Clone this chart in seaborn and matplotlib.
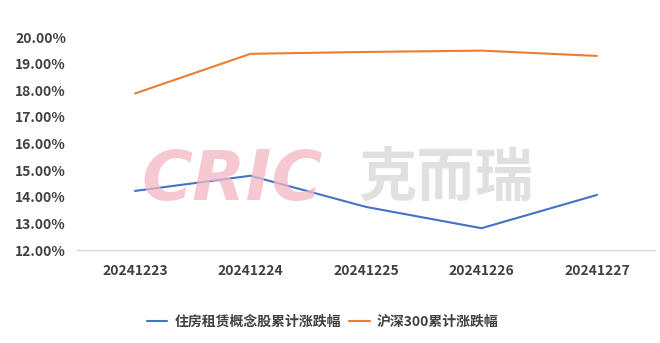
import matplotlib
matplotlib.use("Agg")
import matplotlib.pyplot as plt
import seaborn as sns
import pandas as pd
from matplotlib.ticker import FuncFormatter, MultipleLocator

dates = ["20241223", "20241224", "20241225", "20241226", "20241227"]
rent_series = [14.22, 14.79, 13.62, 12.82, 14.07]
hs300_series = [17.88, 19.37, 19.44, 19.49, 19.29]
series_names = ["住房租赁概念股累计涨跌幅", "沪深300累计涨跌幅"]
colors = ["#4472C4", "#ED7D31"]

df = pd.DataFrame({
    "date": dates * 2,
    "value": rent_series + hs300_series,
    "series": [series_names[0]] * len(dates) + [series_names[1]] * len(dates),
})

sns.set_theme(style="white")
plt.rcParams["font.family"] = ["Noto Sans CJK SC", "DejaVu Sans"]

fig = plt.figure(figsize=(6.6, 3.43), dpi=100)
ax = fig.add_axes([0.117, 0.271, 0.875, 0.621])

# watermark
fig.text(0.352, 0.475, "CRIC", fontsize=50, fontweight="bold", fontstyle="italic",
         color="#F4B8C4", alpha=0.75, ha="center", va="center", family="DejaVu Sans", zorder=0)
fig.text(0.676, 0.475, "克而瑞", fontsize=42, fontweight="bold",
         color="#D9D9D9", alpha=0.8, ha="center", va="center", zorder=0)

sns.lineplot(data=df, x="date", y="value", hue="series", palette=colors,
             linewidth=1.5, ax=ax, sort=False)

ax.set_xlim(-0.5, len(dates) - 0.5)
ax.set_ylim(12, 20)
ax.yaxis.set_major_locator(MultipleLocator(1))
ax.yaxis.set_major_formatter(FuncFormatter(lambda v, p: f"{v:.2f}%"))
ax.set_xlabel("")
ax.set_ylabel("")
for s in ["top", "right", "left"]:
    ax.spines[s].set_visible(False)
ax.spines["bottom"].set_color("#D9D9D9")
ax.spines["bottom"].set_linewidth(1)
ax.patch.set_alpha(0)
ax.tick_params(axis="both", length=0, labelsize=10, labelcolor="#404040")
ax.tick_params(axis="x", pad=10)
ax.tick_params(axis="y", pad=8)
for lab in ax.get_xticklabels() + ax.get_yticklabels():
    lab.set_fontweight("bold")

handles, labels = ax.get_legend_handles_labels()
ax.legend(handles, labels, loc="center", bbox_to_anchor=(0.425, -0.338), ncol=2,
          frameon=False, handlelength=1.5, columnspacing=0.6,
          handletextpad=0.5, labelcolor="#404040", prop={"weight": "bold", "size": 10})

fig.savefig("out.png", dpi=100)
